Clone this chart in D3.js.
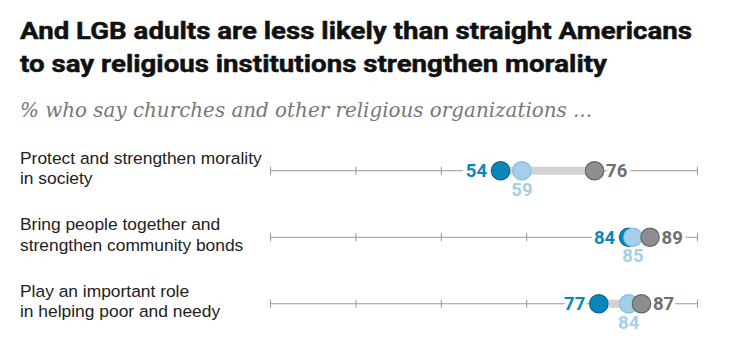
<!DOCTYPE html>
<html><head><meta charset="utf-8">
<script src="https://cdn.jsdelivr.net/npm/d3@7"></script>
<style>body{margin:0;background:#fff}svg{display:block}</style>
</head><body>
<script>
const categories = [
  ["Protect and strengthen morality", "in society"],
  ["Bring people together and", "strengthen community bonds"],
  ["Play an important role", "in helping poor and needy"]
];
const lgbValues = [54, 84, 77];
const allAdultsValues = [59, 85, 84];
const straightValues = [76, 89, 87];
const tickValues = [0, 20, 40, 60, 80, 100];

const W = 729, H = 347;
const svg = d3.select("body").append("svg").attr("width", W).attr("height", H);

const title = (txt, yy, len) => svg.append("text").attr("x", 20).attr("y", yy)
  .attr("font-family", "Roboto").attr("font-weight", 700).attr("font-size", 24.5)
  .attr("textLength", len).attr("lengthAdjust", "spacingAndGlyphs")
  .attr("fill", "#111").attr("stroke", "#111").attr("stroke-width", 0.5).text(txt);
title("And LGB adults are less likely than straight Americans", 39, 672);
title("to say religious institutions strengthen morality", 72, 587);

svg.append("text").attr("x", 20).attr("y", 117)
  .attr("font-family", "DejaVu Serif").attr("font-style", "italic").attr("font-size", 20)
  .attr("textLength", 572).attr("lengthAdjust", "spacingAndGlyphs").attr("fill", "#777")
  .text("% who say churches and other religious organizations ...");

const x = d3.scaleLinear().domain([0, 100]).range([270, 697]);
const y = d3.scaleBand().domain(d3.range(categories.length)).range([137.5, 337]);
const cols = {lgb: "#0a87b8", lgbS: "#076b93", all: "#a3cfea", allS: "#86bedf", st: "#8e8e90", stS: "#666"};

categories.forEach((cat, i) => {
  const cy = y(i) + y.bandwidth() / 2;
  const g = svg.append("g");
  const t = g.append("text").attr("x", 20).attr("font-family", "Liberation Sans, Arial")
    .attr("font-size", 17.4).attr("fill", "#222");
  cat.forEach((line, j) => t.append("tspan").attr("x", 20).attr("y", cy - 7 + j * 20.5).text(line));

  const axis = d3.axisBottom(x).tickValues(tickValues).tickSize(4).tickFormat("");
  const ag = g.append("g").attr("transform", `translate(0,${cy})`).call(axis);
  ag.select(".domain").attr("stroke", "#999").attr("d", `M${x(0)},0H${x(100)}`);
  ag.selectAll(".tick line").attr("stroke", "#999").attr("y1", -4).attr("y2", 4);

  const vals = [lgbValues[i], allAdultsValues[i], straightValues[i]];
  const lo = d3.min(vals), hi = d3.max(vals);
  g.append("line").attr("x1", x(lo)).attr("x2", x(hi)).attr("y1", cy).attr("y2", cy)
    .attr("stroke", "#d2d2d2").attr("stroke-width", 8);

  const lab = (val, xx, yy, anchor, fill) => g.append("text").attr("x", xx).attr("y", yy)
    .attr("text-anchor", anchor).attr("font-family", "Roboto").attr("font-weight", 700)
    .attr("font-size", 18.5).attr("fill", fill)
    .attr("stroke", "#fff").attr("stroke-width", 7).attr("paint-order", "stroke").text(val);

  lab(lgbValues[i], x(lgbValues[i]) - 13.5, cy + 6.5, "end", cols.lgb);
  lab(straightValues[i], x(straightValues[i]) + 11.5, cy + 6.5, "start", "#6e6e6e");
  lab(allAdultsValues[i], x(allAdultsValues[i]), cy + 25, "middle", cols.all);

  g.append("circle").attr("cx", x(lgbValues[i])).attr("cy", cy).attr("r", 9.2)
    .attr("fill", cols.lgb).attr("stroke", cols.lgbS).attr("stroke-width", 1.2);
  g.append("circle").attr("cx", x(allAdultsValues[i])).attr("cy", cy).attr("r", 9.2)
    .attr("fill", cols.all).attr("stroke", cols.allS).attr("stroke-width", 1.2);
  g.append("circle").attr("cx", x(straightValues[i])).attr("cy", cy).attr("r", 9.2)
    .attr("fill", cols.st).attr("stroke", cols.stS).attr("stroke-width", 1.2);
});
</script>
</body></html>
